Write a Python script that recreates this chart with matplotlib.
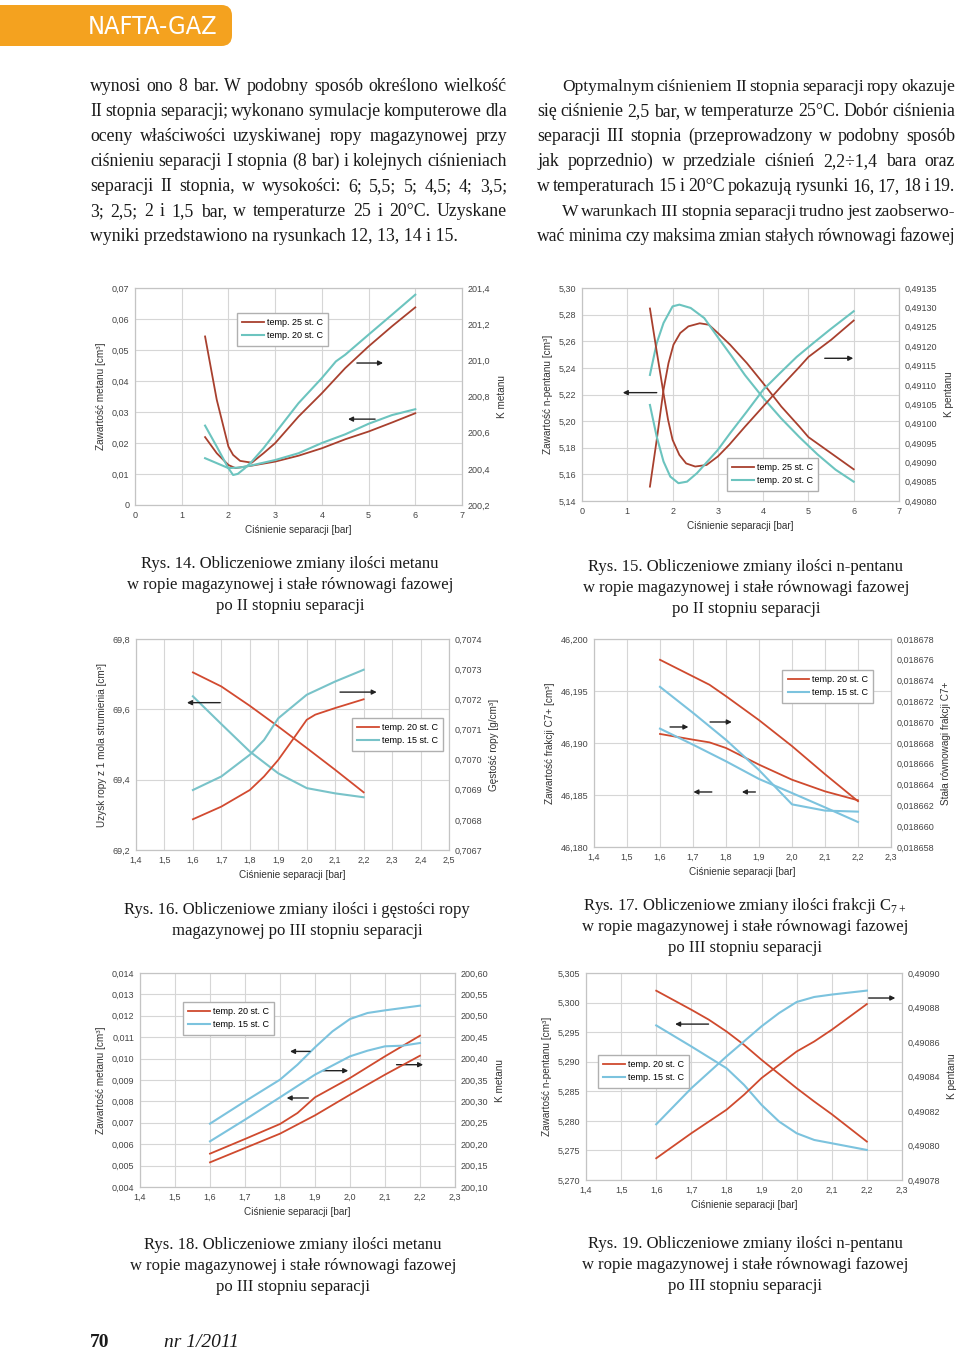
import numpy as np
import matplotlib
matplotlib.use('Agg')
from matplotlib import pyplot as plt
from matplotlib import font_manager
from matplotlib.patches import FancyBboxPatch

W, H = 960, 1351
SERIF = ['Liberation Serif', 'DejaVu Serif']
SANS = ['Liberation Sans', 'DejaVu Sans']

plt.rcParams['font.family'] = SANS
plt.rcParams['mathtext.fontset'] = 'custom'
plt.rcParams['mathtext.rm'] = 'Liberation Serif'

# --- text of the page ---
left_col = [
    "wynosi ono 8 bar. W podobny sposób określono wielkość",
    "II stopnia separacji; wykonano symulacje komputerowe dla",
    "oceny właściwości uzyskiwanej ropy magazynowej przy",
    "ciśnieniu separacji I stopnia (8 bar) i kolejnych ciśnieniach",
    "separacji II stopnia, w wysokości: 6; 5,5; 5; 4,5; 4; 3,5;",
    "3; 2,5; 2 i 1,5 bar, w temperaturze 25 i 20°C. Uzyskane",
    "wyniki przedstawiono na rysunkach 12, 13, 14 i 15.",
]
right_col = [
    "Optymalnym ciśnieniem II stopnia separacji ropy okazuje",
    "się ciśnienie 2,5 bar, w temperaturze 25°C. Dobór ciśnienia",
    "separacji III stopnia (przeprowadzony w podobny sposób",
    "jak poprzednio) w przedziale ciśnień 2,2÷1,4 bara oraz",
    "w temperaturach 15 i 20°C pokazują rysunki 16, 17, 18 i 19.",
    "W warunkach III stopnia separacji trudno jest zaobserwo-",
    "wać minima czy maksima zmian stałych równowagi fazowej",
]
captions = {
    14: ["Rys. 14. Obliczeniowe zmiany ilości metanu",
         "w ropie magazynowej i stałe równowagi fazowej",
         "po II stopniu separacji"],
    15: ["Rys. 15. Obliczeniowe zmiany ilości n-pentanu",
         "w ropie magazynowej i stałe równowagi fazowej",
         "po II stopniu separacji"],
    16: ["Rys. 16. Obliczeniowe zmiany ilości i gęstości ropy",
         "magazynowej po III stopniu separacji"],
    17: ["Rys. 17. Obliczeniowe zmiany ilości frakcji C$_{7+}$",
         "w ropie magazynowej i stałe równowagi fazowej",
         "po III stopniu separacji"],
    18: ["Rys. 18. Obliczeniowe zmiany ilości metanu",
         "w ropie magazynowej i stałe równowagi fazowej",
         "po III stopniu separacji"],
    19: ["Rys. 19. Obliczeniowe zmiany ilości n-pentanu",
         "w ropie magazynowej i stałe równowagi fazowej",
         "po III stopniu separacji"],
}

# --- Rys. 14 (metan, II stopien) ---
p14_k25_x = [1.5, 1.75, 2.0, 2.1, 2.25, 2.5, 2.75, 3.0, 3.5, 4.0, 4.5, 5.0, 5.5, 6.0]
p14_k25 = [201.132, 200.782, 200.523, 200.477, 200.444, 200.434, 200.486, 200.542,
           200.689, 200.818, 200.957, 201.077, 201.188, 201.293]
p14_k20_x = [1.5, 1.75, 2.0, 2.1, 2.2, 2.35, 2.5, 2.75, 3.0, 3.5, 4.0, 4.3, 4.5, 5.0, 5.5, 6.0]
p14_k20 = [200.639, 200.523, 200.403, 200.366, 200.372, 200.403, 200.440, 200.514,
           200.597, 200.763, 200.902, 200.994, 201.031, 201.142, 201.252, 201.363]
p14_c25_x = [1.5, 1.75, 2.0, 2.15, 2.5, 3.0, 3.5, 4.0, 4.5, 5.0, 5.5, 6.0]
p14_c25 = [0.0219, 0.0167, 0.0129, 0.0119, 0.0127, 0.0140, 0.0159, 0.0183, 0.0212, 0.0237, 0.0266, 0.0296]
p14_c20_x = [1.5, 1.75, 2.0, 2.25, 2.5, 3.0, 3.5, 4.0, 4.5, 5.0, 5.5, 6.0]
p14_c20 = [0.0151, 0.0135, 0.0119, 0.0121, 0.0128, 0.0145, 0.0167, 0.0200, 0.0228, 0.0262, 0.0290, 0.0309]

# --- Rys. 15 (n-pentan, II stopien) ---
p15_k25_x = [1.5, 1.65, 1.8, 1.9, 2.0, 2.15, 2.3, 2.5, 2.75, 3.0, 3.25, 3.6, 4.0, 4.4, 4.8, 5.0, 5.5, 6.0]
p15_k25 = [0.491297, 0.491186, 0.491078, 0.491010, 0.490958, 0.490919, 0.490897, 0.490889, 0.490893,
           0.490915, 0.490945, 0.490992, 0.491044, 0.491096, 0.491146, 0.491172, 0.491216, 0.491266]
p15_k20_x = [1.5, 1.65, 1.8, 1.95, 2.13, 2.32, 2.54, 3.0, 3.27, 3.64, 4.0, 4.37, 4.74, 5.11, 5.47, 6.0]
p15_k20 = [0.491048, 0.490966, 0.490902, 0.490863, 0.490846, 0.490850, 0.490872, 0.490932,
           0.490975, 0.491031, 0.491087, 0.491130, 0.491172, 0.491208, 0.491242, 0.491290]
p15_c25_x = [1.5, 1.65, 1.8, 1.91, 2.02, 2.17, 2.35, 2.6, 2.8, 3.0, 3.27, 3.64, 4.0, 4.4, 4.8, 5.0, 5.5, 6.0]
p15_c25 = [5.1508, 5.1859, 5.2235, 5.2436, 5.2574, 5.2662, 5.2712, 5.2735, 5.2724, 5.2662,
           5.2574, 5.2436, 5.2285, 5.2110, 5.1959, 5.1880, 5.1759, 5.1638]
p15_c20_x = [1.5, 1.65, 1.8, 2.0, 2.15, 2.4, 2.7, 3.0, 3.3, 3.6, 4.0, 4.4, 4.8, 5.2, 5.6, 6.0]
p15_c20 = [5.2347, 5.2586, 5.2737, 5.2862, 5.2875, 5.2850, 5.2774, 5.2630, 5.2490, 5.2345,
           5.2175, 5.2020, 5.1880, 5.1750, 5.1635, 5.1545]

# --- Rys. 16 (uzysk i gestosc ropy, III stopien) ---
p16_x = [1.6, 1.7, 1.8, 1.9, 2.0, 2.1, 2.2]
p16_u20 = [69.705, 69.665, 69.610, 69.551, 69.490, 69.428, 69.364]
p16_u15 = [69.637, 69.558, 69.480, 69.418, 69.376, 69.361, 69.350]
p16_d20_x = [1.6, 1.7, 1.8, 1.85, 1.9, 1.95, 2.0, 2.03, 2.1, 2.2]
p16_d20 = [0.706802, 0.706844, 0.706899, 0.706944, 0.706999, 0.707065, 0.707132, 0.707149, 0.707171, 0.707200]
p16_d15_x = [1.6, 1.7, 1.8, 1.85, 1.9, 2.0, 2.1, 2.2]
p16_d15 = [0.706899, 0.706944, 0.707016, 0.707065, 0.707137, 0.707215, 0.707259, 0.707298]

# --- Rys. 17 (frakcja C7+, III stopien) ---
p17_x20 = [1.6, 1.7, 1.75, 1.8, 1.9, 2.0, 2.1, 2.2]
p17_k20 = [0.0186760, 0.0186744, 0.0186736, 0.0186725, 0.0186702, 0.0186677, 0.0186650, 0.0186624]
p17_c20 = [46.19087, 46.19032, 46.19006, 46.18952, 46.18792, 46.18647, 46.18535, 46.18449]
p17_x15 = [1.6, 1.7, 1.8, 1.9, 2.0, 2.1, 2.2]
p17_k15 = [0.0186734, 0.0186709, 0.0186683, 0.0186654, 0.0186621, 0.0186615, 0.0186614]
p17_c15 = [46.19138, 46.18984, 46.18824, 46.18654, 46.18519, 46.18381, 46.18240]

# --- Rys. 18 (metan, III stopien) ---
p18_c15_x = [1.6, 1.7, 1.8, 1.85, 1.9, 1.95, 2.0, 2.05, 2.1, 2.2]
p18_c15 = [0.006960, 0.008003, 0.009016, 0.009717, 0.010526, 0.011274, 0.011850, 0.012131, 0.012255, 0.012474]
p18_k15_x = [1.6, 1.7, 1.8, 1.9, 2.0, 2.05, 2.1, 2.15, 2.2]
p18_k15 = [200.2067, 200.2573, 200.3095, 200.3625, 200.4053, 200.4185, 200.4287, 200.4302, 200.4364]
p18_c20_x = [1.6, 1.7, 1.8, 1.85, 1.9, 2.0, 2.1, 2.2]
p18_c20 = [0.005558, 0.006243, 0.006944, 0.007458, 0.008190, 0.009093, 0.010106, 0.011072]
p18_k20_x = [1.6, 1.7, 1.8, 1.9, 2.0, 2.1, 2.2]
p18_k20 = [200.1576, 200.1911, 200.2246, 200.2674, 200.3157, 200.3625, 200.4068]

# --- Rys. 19 (n-pentan, III stopien) ---
p19_c20_x = [1.6, 1.7, 1.75, 1.8, 1.85, 1.9, 2.0, 2.05, 2.1, 2.2]
p19_c20 = [5.30201, 5.29879, 5.29710, 5.29512, 5.29286, 5.29032, 5.28552, 5.28327, 5.28112, 5.27649]
p19_c15_x = [1.6, 1.7, 1.8, 1.85, 1.9, 1.95, 2.0, 2.05, 2.1, 2.2]
p19_c15 = [5.29614, 5.29258, 5.28891, 5.28609, 5.28270, 5.27988, 5.27790, 5.27677, 5.27621, 5.27508]
p19_k15_x = [1.6, 1.7, 1.8, 1.9, 1.95, 2.0, 2.05, 2.1, 2.2]
p19_k15 = [0.4908123, 0.4908332, 0.4908516, 0.4908691, 0.4908768, 0.4908832, 0.4908861, 0.4908875, 0.4908898]
p19_k20_x = [1.6, 1.7, 1.8, 1.85, 1.9, 2.0, 2.05, 2.1, 2.2]
p19_k20 = [0.4907926, 0.4908071, 0.4908207, 0.4908294, 0.4908391, 0.4908545, 0.4908603, 0.4908671, 0.4908820]

RED_A, TEAL_A = '#a8402e', '#6cc4bf'
RED_B, TEAL_B = '#d24a30', '#79c3c9'
RED_C, BLUE_C = '#cf4a2e', '#7cc3de'
TXT = '#1a1a1a'

fig = plt.figure(figsize=(W / 100, H / 100), dpi=100)
renderer = fig.canvas.get_renderer()


def fx(x):
    return x / W


def fy(y):
    return 1 - y / H


def num(v, d):
    if abs(v) < 1e-12:
        return '0'
    return f'{v:.{d}f}'.replace('.', ',')


def chart(box, xlim, xstep, xdec, ylim, ystep, ydec, y2lim, y2step, y2dec, ylab, y2lab):
    x0, y0, x1, y1 = box
    ax = fig.add_axes([fx(x0), fy(y1), (x1 - x0) / W, (y1 - y0) / H])
    ax2 = ax.twinx()
    xt = np.arange(xlim[0], xlim[1] + xstep / 2, xstep)
    yt = np.arange(ylim[0], ylim[1] + ystep / 2, ystep)
    y2t = np.arange(y2lim[0], y2lim[1] + y2step / 2, y2step)
    ax.set_xlim(xlim)
    ax.set_ylim(ylim)
    ax2.set_ylim(y2lim)
    ax.set_xticks(xt, labels=[num(v, xdec) for v in xt])
    ax.set_yticks(yt, labels=[num(v, ydec) for v in yt])
    ax2.set_yticks(y2t, labels=[num(v, y2dec) for v in y2t])
    for a in (ax, ax2):
        a.tick_params(length=0, labelsize=6.5, labelcolor='#444', pad=4)
        for s in a.spines.values():
            s.set_color('#c4c4c4')
            s.set_linewidth(0.8)
    ax.grid(True, color='#d6d6d6', lw=0.8)
    ax.set_axisbelow(True)
    ax.set_xlabel('Ciśnienie separacji [bar]', fontsize=7.2, color='#333', labelpad=4)
    ax.set_ylabel(ylab, fontsize=7.2, color='#333', labelpad=4)
    ax2.set_ylabel(y2lab, fontsize=7.2, color='#333', labelpad=5)
    return ax, ax2


def arrow(ax, tail, head, y):
    ax.annotate('', xy=(head, y), xytext=(tail, y),
                arrowprops=dict(arrowstyle='-|>', color='#222', lw=1.0,
                                mutation_scale=7, shrinkA=0, shrinkB=0))


def legend(ax2, labels, loc, anchor):
    h = ax2.get_lines()[:2]
    ax2.legend(h, labels, loc=loc, bbox_to_anchor=anchor, borderaxespad=0,
               fontsize=6.5, frameon=True, fancybox=False, edgecolor='#b0b0b0',
               framealpha=1, handlelength=2.4, handletextpad=0.3, borderpad=0.6,
               labelspacing=0.45)


# Rys. 14
ax, ax2 = chart((135, 288, 462, 505), (0, 7), 1, 0, (0, 0.07), 0.01, 2, (200.2, 201.4), 0.2, 1,
                'Zawartość metanu [cm³]', 'K metanu')
ax2.plot(p14_k25_x, p14_k25, color=RED_A, lw=1.3)
ax2.plot(p14_k20_x, p14_k20, color=TEAL_A, lw=1.5)
ax.plot(p14_c25_x, p14_c25, color=RED_A, lw=1.3)
ax.plot(p14_c20_x, p14_c20, color=TEAL_A, lw=1.5)
arrow(ax, 4.75, 5.31, 0.0458)
arrow(ax, 5.14, 4.56, 0.0277)
legend(ax2, ['temp. 25 st. C', 'temp. 20 st. C'], 'upper left', (0.312, 0.885))

# Rys. 15
ax, ax2 = chart((582, 288, 899, 501), (0, 7), 1, 0, (5.14, 5.30), 0.02, 2, (0.49080, 0.49135), 0.00005, 5,
                'Zawartość n-pentanu [cm³]', 'K pentanu')
ax2.plot(p15_k25_x, p15_k25, color=RED_A, lw=1.3)
ax2.plot(p15_k20_x, p15_k20, color=TEAL_A, lw=1.5)
ax.plot(p15_c25_x, p15_c25, color=RED_A, lw=1.3)
ax.plot(p15_c20_x, p15_c20, color=TEAL_A, lw=1.5)
arrow(ax, 1.65, 0.90, 5.2214)
arrow(ax, 5.36, 5.99, 5.2472)
legend(ax2, ['temp. 25 st. C', 'temp. 20 st. C'], 'lower left', (0.457, 0.048))

# Rys. 16
ax, ax2 = chart((136, 639, 449, 850), (1.4, 2.5), 0.1, 1, (69.2, 69.8), 0.2, 1, (0.7067, 0.7074), 0.0001, 4,
                'Uzysk ropy z 1 mola strumienia [cm³]', 'Gęstość ropy [g/cm³]')
ax2.plot(p16_d20_x, p16_d20, color=RED_B, lw=1.3)
ax2.plot(p16_d15_x, p16_d15, color=TEAL_B, lw=1.5)
ax.plot(p16_x, p16_u20, color=RED_B, lw=1.3)
ax.plot(p16_x, p16_u15, color=TEAL_B, lw=1.5)
arrow(ax, 1.696, 1.579, 69.619)
arrow(ax, 2.117, 2.246, 69.649)
legend(ax2, ['temp. 20 st. C', 'temp. 15 st. C'], 'upper right', (0.981, 0.626))

# Rys. 17
ax, ax2 = chart((594, 639, 891, 847), (1.4, 2.3), 0.1, 1, (46.180, 46.200), 0.005, 3,
                (0.018658, 0.018678), 0.000002, 6,
                'Zawartość frakcji C7+ [cm³]', 'Stała równowagi frakcji C7+')
ax2.plot(p17_x20, p17_k20, color=RED_C, lw=1.3)
ax2.plot(p17_x15, p17_k15, color=BLUE_C, lw=1.5)
ax.plot(p17_x20, p17_c20, color=RED_C, lw=1.3)
ax.plot(p17_x15, p17_c15, color=BLUE_C, lw=1.5)
arrow(ax, 1.6305, 1.6861, 46.19154)
arrow(ax, 1.7518, 1.8176, 46.19202)
arrow(ax, 1.7570, 1.7012, 46.18529)
arrow(ax, 1.889, 1.848, 46.18529)
legend(ax2, ['temp. 20 st. C', 'temp. 15 st. C'], 'upper right', (0.941, 0.852))

# Rys. 18
ax, ax2 = chart((140, 973, 455, 1187), (1.4, 2.3), 0.1, 1, (0.004, 0.014), 0.001, 3,
                (200.10, 200.60), 0.05, 2, 'Zawartość metanu [cm³]', 'K metanu')
ax2.plot(p18_k20_x, p18_k20, color=RED_C, lw=1.3)
ax2.plot(p18_k15_x, p18_k15, color=BLUE_C, lw=1.5)
ax.plot(p18_c20_x, p18_c20, color=RED_C, lw=1.3)
ax.plot(p18_c15_x, p18_c15, color=BLUE_C, lw=1.5)
arrow(ax, 1.8857, 1.8286, 0.010336)
arrow(ax, 1.881, 1.819, 0.008159)
arrow(ax, 1.924, 1.995, 0.009435)
arrow(ax, 2.133, 2.209, 0.009715)
legend(ax2, ['temp. 20 st. C', 'temp. 15 st. C'], 'upper left', (0.136, 0.866))

# Rys. 19
ax, ax2 = chart((586, 973, 902, 1180), (1.4, 2.3), 0.1, 1, (5.270, 5.305), 0.005, 3,
                (0.49078, 0.49090), 0.00002, 5, 'Zawartość n-pentanu [cm³]', 'K pentanu')
ax2.plot(p19_k20_x, p19_k20, color=RED_C, lw=1.3)
ax2.plot(p19_k15_x, p19_k15, color=BLUE_C, lw=1.5)
ax.plot(p19_c20_x, p19_c20, color=RED_C, lw=1.3)
ax.plot(p19_c15_x, p19_c15, color=BLUE_C, lw=1.5)
arrow(ax, 1.749, 1.6538, 5.29636)
arrow(ax, 2.205, 2.281, 5.30077)
legend(ax2, ['temp. 20 st. C', 'temp. 15 st. C'], 'upper left', (0.038, 0.605))


def width_of(s, size, **kw):
    t = fig.text(0, 0, s, fontsize=size, **kw)
    w = t.get_window_extent(renderer).width
    t.remove()
    return w


# header, with a narrow sans if there is one
names = {f.name for f in font_manager.fontManager.ttflist}
condensed = {f.name for f in font_manager.fontManager.ttflist if f.stretch in ('condensed', 'semi-condensed')}
if 'Liberation Sans Narrow' in names:
    head_kw = dict(family=['Liberation Sans Narrow', 'DejaVu Sans'])
elif 'DejaVu Sans' in condensed:
    head_kw = dict(family=['DejaVu Sans'], stretch='condensed')
else:
    head_kw = dict(family=SANS)
head_size = min(20, 20 * 130 / width_of('NAFTA-GAZ', 20, **head_kw))

fig.patches.append(FancyBboxPatch((fx(-30), fy(46)), fx(262), 41 / H, transform=fig.transFigure,
                                  boxstyle='round,pad=0,rounding_size=0.011',
                                  mutation_aspect=W / H, fc='#f4a21f', ec='none'))
fig.text(fx(153), fy(27), 'NAFTA-GAZ', fontsize=head_size, color='white',
         ha='center', va='center', **head_kw)


# body text, justified word by word
def put_line(s, x0, x1, base, size, justify=True):
    if not justify:
        fig.text(fx(x0), fy(base), s, fontsize=size, family=SERIF, color=TXT, va='baseline')
        return
    words = s.split()
    ws = [width_of(w, size, family=SERIF) for w in words]
    gap = (x1 - x0 - sum(ws)) / (len(words) - 1)
    while gap < 2.6:
        size -= 0.1
        ws = [width_of(w, size, family=SERIF) for w in words]
        gap = (x1 - x0 - sum(ws)) / (len(words) - 1)
    x = x0
    for w, wd in zip(words, ws):
        fig.text(fx(x), fy(base), w, fontsize=size, family=SERIF, color=TXT, va='baseline')
        x += wd + gap


BODY = 12.8
for i, s in enumerate(left_col):
    put_line(s, 90, 507, 91 + 25 * i, BODY, justify=(i < 6))
for i, s in enumerate(right_col):
    x0 = 562 if i in (0, 5) else 537
    put_line(s, x0, 955, 91 + 25 * i, BODY)

# captions
cap_pos = {14: (290, 568), 15: (746, 571), 16: (297, 914), 17: (745, 910), 18: (293, 1249), 19: (745, 1248)}
for k, rows in captions.items():
    cx, cy = cap_pos[k]
    for j, r in enumerate(rows):
        fig.text(fx(cx), fy(cy + 21 * j), r, fontsize=12, family=SERIF, color=TXT,
                 ha='center', va='baseline')

# footer
fig.text(fx(90), fy(1347), '70', fontsize=14, family=SERIF, weight='bold', color=TXT, va='baseline')
fig.text(fx(164), fy(1347), 'nr 1/2011', fontsize=14, family=SERIF, style='italic', color=TXT, va='baseline')

fig.savefig('out.png', dpi=100)
